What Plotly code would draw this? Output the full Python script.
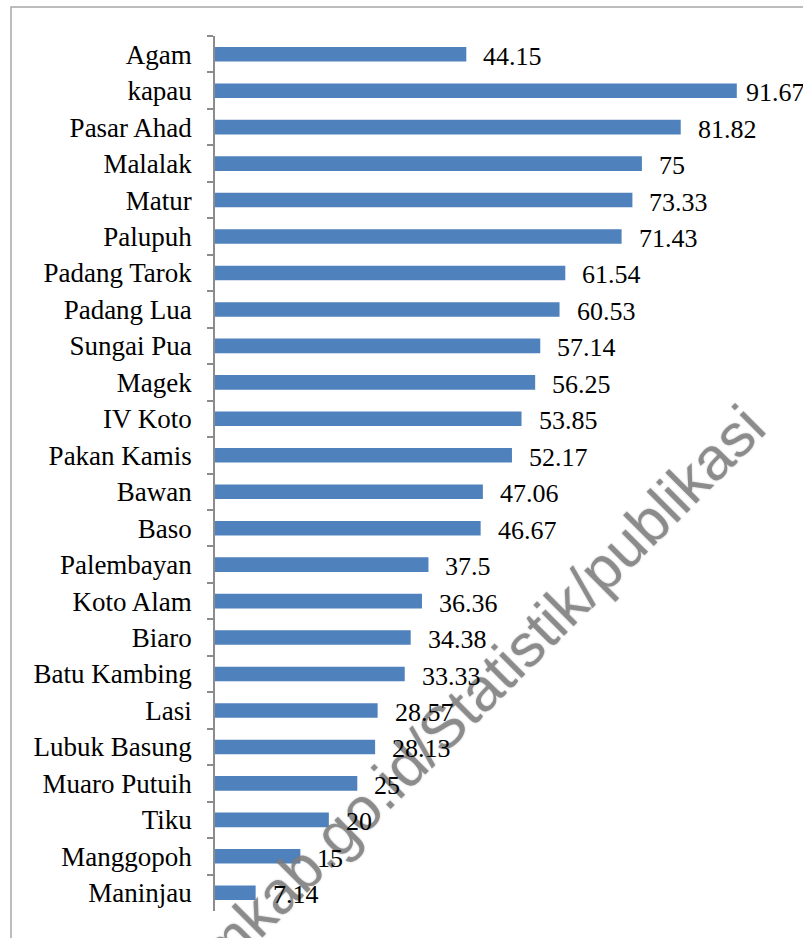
import plotly.graph_objects as go

# Nagari / kecamatan names, top to bottom
categories = [
    "Agam", "kapau", "Pasar Ahad", "Malalak", "Matur", "Palupuh",
    "Padang Tarok", "Padang Lua", "Sungai Pua", "Magek", "IV Koto",
    "Pakan Kamis", "Bawan", "Baso", "Palembayan", "Koto Alam", "Biaro",
    "Batu Kambing", "Lasi", "Lubuk Basung", "Muaro Putuih", "Tiku",
    "Manggopoh", "Maninjau",
]
values = [
    44.15, 91.67, 81.82, 75, 73.33, 71.43, 61.54, 60.53, 57.14, 56.25,
    53.85, 52.17, 47.06, 46.67, 37.5, 36.36, 34.38, 33.33, 28.57, 28.13,
    25, 20, 15, 7.14,
]
value_labels = [f"{v:g}" for v in values]

W, H = 803, 938
ML, MR, MT, MB = 215, 0, 36, 27
X_MAX = 103.3
SERIF = "Liberation Serif, Times New Roman, serif"
LABEL_SIZE = 26

fig = go.Figure(
    go.Bar(
        x=values,
        y=categories,
        orientation="h",
        marker=dict(color="#4f81bd", line=dict(width=0)),
        width=0.4,
        hoverinfo="skip",
    )
)


def text_width(s, size):
    # rough Times metrics for digits and the decimal point
    return sum(0.25 if ch == "." else 0.5 for ch in s) * size


plot_w = W - ML - MR
plot_h = H - MT - MB
px_per_unit = plot_w / X_MAX
annotations = []

# watermark, behind the value labels
annotations.append(dict(
    text="agamkab.go.id/Statistik/publikasi",
    xref="paper", yref="paper",
    x=(446 - ML) / plot_w, y=((H - MB) - 724) / plot_h,
    xanchor="center", yanchor="middle",
    textangle=-45, showarrow=False,
    font=dict(family="Liberation Sans, Arial, sans-serif", size=60,
              color="rgba(125,125,125,0.8)",
              shadow="0 0 2px rgba(125,125,125,0.6)"),
))

for cat, v, lab in zip(categories, values, value_labels):
    shift = 15
    end_px = v * px_per_unit + shift + text_width(lab, LABEL_SIZE)
    if end_px > plot_w:
        shift -= end_px - plot_w
    annotations.append(dict(
        x=v, y=cat, xref="x", yref="y", text=lab, showarrow=False,
        xanchor="left", yanchor="middle", xshift=shift, yshift=-2,
        font=dict(family=SERIF, size=LABEL_SIZE, color="black"),
    ))

fig.update_layout(
    width=W, height=H,
    margin=dict(l=ML, r=MR, t=MT, b=MB, pad=0),
    paper_bgcolor="white", plot_bgcolor="white",
    showlegend=False,
    bargap=0.6,
    annotations=annotations,
    shapes=[dict(
        type="rect", xref="paper", yref="paper",
        x0=(11 - ML) / plot_w, x1=1.2,
        y0=-0.2, y1=((H - MB) - 7) / plot_h,
        line=dict(color="#a6a6a6", width=1.5), fillcolor="rgba(0,0,0,0)",
        layer="below",
    )],
    xaxis=dict(
        range=[0, X_MAX], visible=False, fixedrange=True,
    ),
    yaxis=dict(
        type="category",
        categoryorder="array", categoryarray=categories,
        range=[len(categories) - 0.5, -0.5],
        showline=True, linecolor="#8c8c8c", linewidth=1.5,
        ticks="outside", tickson="boundaries", ticklen=6,
        tickcolor="#8c8c8c", tickwidth=1.5,
        ticklabelstandoff=16,
        showgrid=False, zeroline=False,
        tickfont=dict(family=SERIF, size=27, color="black"),
        fixedrange=True,
    ),
)

fig.write_html("out.html")
